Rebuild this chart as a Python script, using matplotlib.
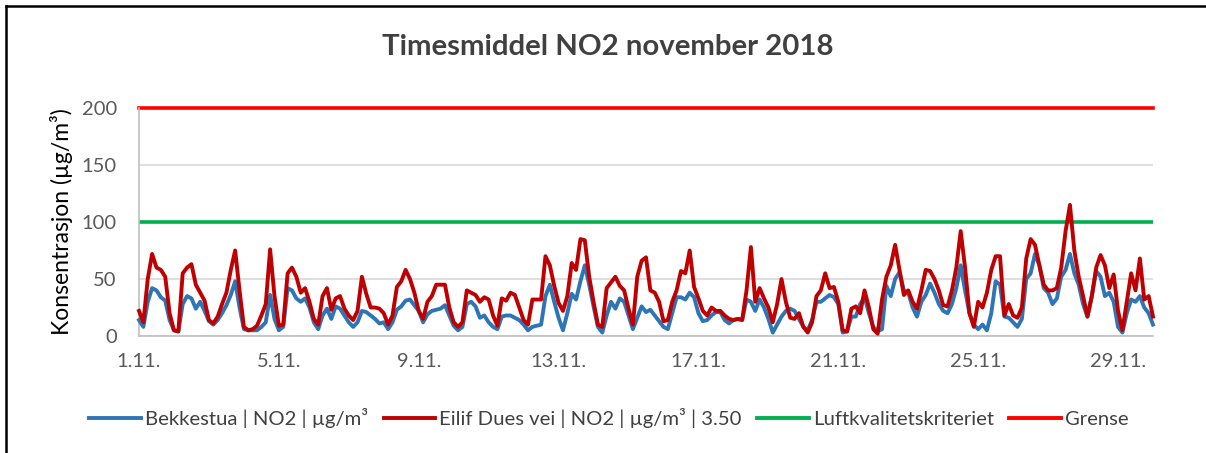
import numpy as np
import pandas as pd
import matplotlib
matplotlib.use("Agg")
import matplotlib.pyplot as plt
from matplotlib.lines import Line2D

plt.rcParams["font.family"] = ["Lato", "DejaVu Sans"]

# 3-hourly values, 1.11. 00:00 to 30.11. 00:00
bekkestua = [
    14, 8, 30, 42, 40, 34, 31, 14, 5, 4, 28, 35, 33, 24, 30, 22, 13, 10, 14, 20,
    27, 36, 48, 25, 6, 5, 5, 5, 8, 12, 36, 15, 5, 8, 42, 40, 33, 30, 33, 25,
    12, 6, 18, 24, 15, 26, 24, 18, 12, 8, 12, 22, 21, 18, 15, 11, 12, 6, 12, 23,
    26, 31, 32, 27, 22, 12, 19, 22, 23, 24, 27, 18, 9, 5, 8, 28, 30, 26, 16, 18,
    12, 8, 6, 17, 18, 18, 16, 14, 10, 5, 8, 9, 10, 35, 45, 30, 16, 5, 20, 37,
    32, 48, 62, 45, 26, 8, 3, 18, 30, 24, 33, 30, 18, 6, 16, 26, 21, 23, 18, 13,
    8, 6, 20, 34, 34, 32, 38, 34, 20, 13, 14, 18, 21, 21, 14, 11, 14, 15, 14, 32,
    30, 22, 32, 25, 15, 3, 10, 17, 22, 24, 22, 15, 8, 5, 14, 30, 30, 33, 36, 34,
    28, 3, 4, 17, 17, 28, 34, 20, 8, 4, 6, 44, 35, 50, 56, 40, 38, 25, 17, 30,
    36, 46, 38, 28, 22, 20, 28, 42, 62, 40, 20, 10, 6, 10, 5, 20, 48, 45, 17, 16,
    12, 8, 15, 50, 55, 72, 62, 42, 38, 28, 33, 52, 58, 72, 55, 45, 28, 17, 35, 57,
    52, 35, 38, 30, 8, 3, 20, 32, 30, 35, 25, 20, 10,
]
eilif_dues_vei = [
    22, 12, 50, 72, 60, 58, 52, 20, 5, 4, 55, 60, 63, 45, 38, 31, 14, 11, 17, 28,
    38, 58, 75, 40, 8, 5, 6, 9, 18, 28, 76, 35, 9, 10, 55, 60, 52, 38, 42, 30,
    15, 10, 35, 42, 23, 33, 35, 24, 18, 14, 22, 52, 37, 25, 25, 24, 20, 10, 18, 43,
    48, 58, 50, 38, 22, 15, 30, 35, 45, 45, 45, 25, 12, 8, 12, 40, 38, 36, 30, 34,
    32, 18, 9, 33, 31, 38, 36, 25, 14, 10, 32, 32, 32, 70, 62, 44, 29, 22, 35, 64,
    58, 85, 84, 52, 30, 10, 8, 42, 47, 52, 44, 40, 24, 10, 52, 66, 69, 40, 38, 30,
    13, 14, 30, 40, 57, 55, 75, 43, 33, 22, 18, 25, 22, 22, 18, 15, 14, 15, 14, 40,
    78, 30, 42, 33, 25, 12, 28, 50, 30, 16, 15, 20, 8, 3, 12, 35, 40, 55, 42, 43,
    30, 5, 4, 24, 26, 20, 40, 25, 6, 2, 32, 52, 62, 80, 58, 36, 40, 30, 24, 40,
    58, 57, 50, 40, 27, 26, 40, 60, 92, 60, 20, 8, 30, 25, 38, 58, 70, 70, 18, 28,
    18, 16, 25, 68, 85, 80, 62, 45, 40, 40, 42, 60, 92, 115, 75, 52, 35, 17, 35, 60,
    71, 62, 42, 54, 22, 5, 30, 55, 40, 68, 32, 35, 17,
]
luftkvalitetskriteriet = 100
grense = 200

tick_dates = ["2018-11-01", "2018-11-05", "2018-11-09", "2018-11-13",
              "2018-11-17", "2018-11-21", "2018-11-25", "2018-11-29"]
tick_labels = ["1.11.", "5.11.", "9.11.", "13.11.", "17.11.", "21.11.", "25.11.", "29.11."]
y_ticks = [0, 50, 100, 150, 200]

times = pd.date_range("2018-11-01", periods=len(bekkestua), freq="3h")

fig = plt.figure(figsize=(12.06, 4.53), dpi=100)
ax = fig.add_axes([139 / 1206, 1 - 336 / 453, (1153 - 139) / 1206, (336 - 108) / 453])

ax.plot(times, bekkestua, color="#2E75B6", lw=2.8, clip_on=False, zorder=3)
ax.plot(times, eilif_dues_vei, color="#C00000", lw=2.8, clip_on=False, zorder=4)
ax.axhline(luftkvalitetskriteriet, color="#00B050", lw=2.6, zorder=2)
ax.axhline(grense, color="#FF0000", lw=2.6, clip_on=False, zorder=2)

ax.set_xlim(times[0], times[-1])
ax.set_ylim(0, 200)
ax.set_yticks(y_ticks)
ax.set_xticks(pd.to_datetime(tick_dates))
ax.set_xticklabels(tick_labels)
ax.tick_params(axis="both", length=0, labelsize=14.5, colors="#595959")
ax.tick_params(axis="x", pad=12)
ax.tick_params(axis="y", pad=16)
ax.grid(axis="y", color="#D9D9D9", lw=1.2)
ax.set_axisbelow(True)
for s in ["top", "right"]:
    ax.spines[s].set_visible(False)
ax.spines["left"].set_color("#BFBFBF")
ax.spines["bottom"].set_color("#BFBFBF")
ax.spines["left"].set_linewidth(1.2)
ax.spines["bottom"].set_linewidth(1.2)

ax.set_ylabel("Konsentrasjon (µg/m³)", fontsize=16.5, color="#000000", labelpad=6)
fig.text(0.504, 1 - 47 / 453, "Timesmiddel NO2 november 2018", ha="center", va="center",
         fontsize=21.2, fontweight="bold", color="#404040")

handles = [
    Line2D([], [], color="#2E75B6", lw=2.8),
    Line2D([], [], color="#C00000", lw=2.8),
    Line2D([], [], color="#00B050", lw=2.8),
    Line2D([], [], color="#FF0000", lw=2.8),
]
labels = ["Bekkestua | NO2 | µg/m³", "Eilif Dues vei | NO2 | µg/m³ | 3.50",
          "Luftkvalitetskriteriet", "Grense"]
leg = fig.legend(handles, labels, loc="center", bbox_to_anchor=(0.505, 1 - 418 / 453),
                 ncol=4, frameon=False, fontsize=14.6, handlelength=2.56,
                 handletextpad=0.2, columnspacing=0.75)
for t in leg.get_texts():
    t.set_color("#404040")

# outer frame (top and left edges visible)
fig.add_artist(Line2D([5.5 / 1206, 1], [1 - 5.5 / 453, 1 - 5.5 / 453], color="black", lw=1.8))
fig.add_artist(Line2D([5.5 / 1206, 5.5 / 1206], [0, 1 - 5.5 / 453], color="black", lw=1.8))

fig.savefig("out.png", dpi=100)
